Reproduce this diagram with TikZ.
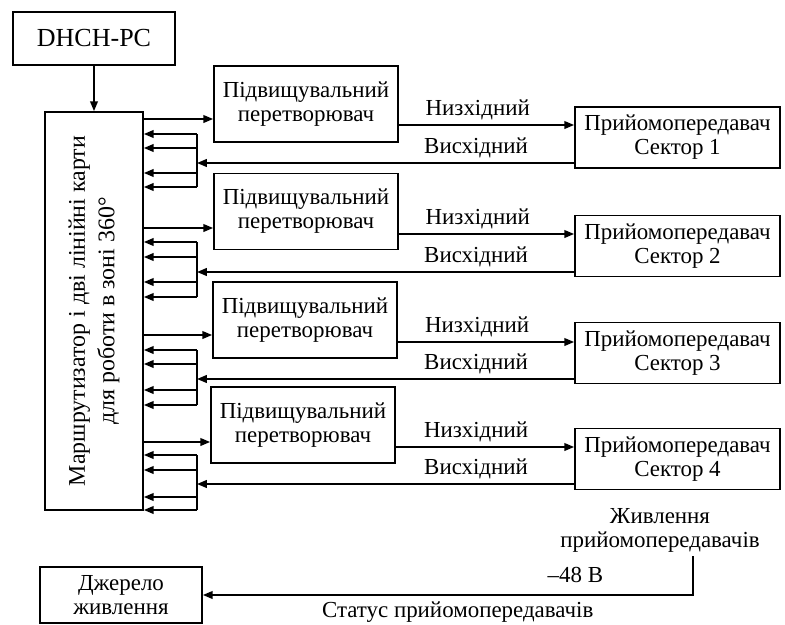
\documentclass[tikz,border=0pt]{standalone}
\usepackage{fontspec}
\setmainfont{Liberation Serif}
\usetikzlibrary{arrows.meta,positioning}
\tikzstyle{block} = [rectangle, draw, line width=1.2pt, align=center,
    inner sep=0pt]
\tikzstyle{conv} = [block, minimum width=4.6cm, minimum height=1.9cm]
\tikzstyle{trx} = [block, minimum width=5.125cm, minimum height=1.525cm]
\tikzstyle{wire} = [line width=1.2pt]

\begin{document}
\begin{tikzpicture}[x=0.025cm,y=-0.025cm,>={Triangle[length=7pt,width=5.5pt]},
                    font=\fontsize{16.3}{17}\selectfont]
  \useasboundingbox (0,0) rectangle (785,625);

  \node[block, minimum width=4.05cm, minimum height=1.325cm,
        font=\fontsize{18.5}{20}\selectfont] (pc) at (94,38.5) {DHCH-PC};
  \node[block, rotate=90, minimum width=9.95cm, minimum height=2.45cm,
        font=\fontsize{17}{21}\selectfont] (router) at (94,311)
       {Маршрутизатор і дві лінійні карти\\для роботи в зоні 360°};

  \node[conv] (cv1) at (306,104)   {Підвищувальний\\перетворювач};
  \node[conv] (cv2) at (306,211.5) {Підвищувальний\\перетворювач};
  \node[conv] (cv3) at (305,320)   {Підвищувальний\\перетворювач};
  \node[conv] (cv4) at (303,425)   {Підвищувальний\\перетворювач};

  \node[trx] (tr1) at (677.5,137.5) {Прийомопередавач\\Сектор 1};
  \node[trx] (tr2) at (677.5,246)   {Прийомопередавач\\Сектор 2};
  \node[trx] (tr3) at (677.5,353)   {Прийомопередавач\\Сектор 3};
  \node[trx] (tr4) at (677.5,459)   {Прийомопередавач\\Сектор 4};

  \node[block, minimum width=4.05cm, minimum height=1.4cm] (src) at (121,595) {Джерело\\живлення};
  \node[align=center] (pw) at (660,530) {Живлення\\прийомопередавачів};
  \coordinate (pwr) at (693,556);

  \draw[wire,->] (pc) -- (pc |- router.east);

  % to the converters and on to the sectors
  \foreach \n/\s/\d in {1/119/125, 2/228/234, 3/335/342, 4/442/447} {
    \draw[wire,->] (router.south |- 0,\s) -- (cv\n.west |- 0,\s);
    \draw[wire,->] (cv\n.east |- 0,\d) -- node[above,pos=0.45] {Низхідний} (tr\n.west |- 0,\d);
  }

  % back from the sectors
  \foreach \n/\a/\b/\c/\d/\u in {1/134/148/173/187/163, 2/242/257/282/297/272,
                                 3/350/364/390/405/379, 4/455/470/497/510/484} {
    \coordinate (j\n) at (197,\u);
    \draw[wire,->] (tr\n.west |- j\n) -- node[above,pos=0.26] {Висхідний} (j\n);
    \draw[wire] (197,\a) -- (197,\d);
    \foreach \y in {\a,\b,\c,\d}
      \draw[wire,->] (197,\y) -- (router.south |- 0,\y);
  }

  \draw[wire,->] (pwr) |- node[pos=0.62,above=5pt] {–48 В}
                 node[pos=0.74,below=1pt] {Статус прийомопередавачів} (src.east);
\end{tikzpicture}
\end{document}
